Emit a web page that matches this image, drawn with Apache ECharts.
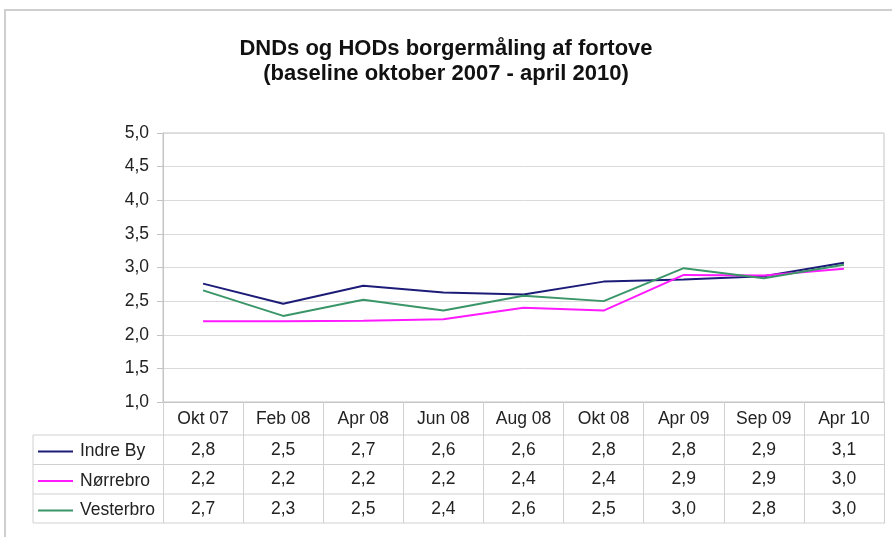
<!DOCTYPE html>
<html><head><meta charset="utf-8">
<script src="https://cdn.jsdelivr.net/npm/echarts@6/dist/echarts.min.js"></script>
<style>html,body{margin:0;padding:0;background:#fff}#c{width:892px;height:537px}</style>
</head><body><div id="c"></div>
<script>
const categories = ['Okt 07','Feb 08','Apr 08','Jun 08','Aug 08','Okt 08','Apr 09','Sep 09','Apr 10'];
const indreBy   = [2.76, 2.46, 2.73, 2.63, 2.60, 2.79, 2.82, 2.87, 3.07];
const norrebro  = [2.20, 2.20, 2.21, 2.23, 2.40, 2.36, 2.89, 2.88, 2.98];
const vesterbro = [2.66, 2.28, 2.52, 2.36, 2.58, 2.50, 2.99, 2.84, 3.04];
const seriesNames = ['Indre By','Nørrebro','Vesterbro'];
const yTicks = { min: 1, max: 5, interval: 0.5 };
const titleLines = ['DNDs og HODs borgermåling af fortove','(baseline oktober 2007 - april 2010)'];

const colors = ['#1c1c78','#ff1aff','#3a9668'];
const seriesData = [indreBy, norrebro, vesterbro];
const fmt = v => (Math.round(v*10)/10).toFixed(1).replace('.', ',');

const FONT = 'Liberation Sans, Arial';
const FS = 17.5;
const G = { left: 163, top: 133, right: 8, bottom: 135 };
const rowOffsets = [31, 60.5, 90];
const rowCenters = [449.5, 479, 508.5];
const lineColor = '#d0d0d0';

const chart = echarts.init(document.getElementById('c'));
const xAxes = [{
  type: 'category', data: categories, boundaryGap: true, gridIndex: 0, position: 'bottom',
  axisLine: { show: true, lineStyle: { color: '#c4c4c4', width: 1 } },
  axisTick: { show: true, length: 121, lineStyle: { color: lineColor } },
  axisLabel: { fontFamily: FONT, fontSize: FS, color: '#222', margin: 8 },
  splitLine: { show: false }
}];
seriesData.forEach((d, i) => {
  xAxes.push({
    type: 'category', data: d.map(fmt), gridIndex: 0, position: 'bottom', offset: rowOffsets[i],
    axisLine: { show: false }, axisTick: { show: false },
    axisLabel: { fontFamily: FONT, fontSize: FS, color: '#222', margin: 8 }
  });
});

const graphics = [
  { type: 'rect', shape: { x: 5, y: 10, width: 900, height: 540 }, style: { fill: 'none', stroke: '#cfcfcf', lineWidth: 2 }, silent: true, z: -1 }
];
[435, 464.5, 494, 523].forEach(y => graphics.push({
  type: 'line', shape: { x1: 33, y1: y, x2: 885, y2: y }, style: { stroke: lineColor, lineWidth: 1 }, silent: true
}));
graphics.push({ type: 'line', shape: { x1: 33, y1: 435, x2: 33, y2: 523 }, style: { stroke: lineColor, lineWidth: 1 }, silent: true });

const legends = seriesNames.map((n, i) => ({
  data: [n], left: 33, top: rowCenters[i] - 12, icon: 'rect', itemWidth: 35, itemHeight: 2, itemGap: 4,
  textStyle: { fontFamily: FONT, fontSize: FS, color: '#222', padding: [0,0,0,2] },
  selectedMode: false
}));

chart.setOption({
  animation: false,
  title: {
    text: titleLines.join('\n'), left: 'center', top: 31,
    textStyle: { fontFamily: FONT, fontWeight: 'bold', fontSize: 22, lineHeight: 25, color: '#111' }
  },
  grid: { left: G.left, top: G.top, right: G.right, bottom: G.bottom, show: true, borderColor: '#c4c4c4', borderWidth: 1 },
  legend: legends,
  xAxis: xAxes,
  yAxis: {
    type: 'value', min: yTicks.min, max: yTicks.max, interval: yTicks.interval,
    axisLine: { show: true, lineStyle: { color: '#c4c4c4' } },
    axisTick: { show: true, length: 6, lineStyle: { color: '#c4c4c4' } },
    axisLabel: { formatter: v => v.toFixed(1).replace('.', ','), fontFamily: FONT, fontSize: FS, color: '#222', margin: 14 },
    splitLine: { lineStyle: { color: '#dadada' } }
  },
  graphic: graphics,
  series: seriesData.map((d, i) => ({
    name: seriesNames[i], type: 'line', data: d, xAxisIndex: 0, symbol: 'none',
    lineStyle: { color: colors[i], width: 2 }, itemStyle: { color: colors[i] }
  }))
});
</script></body></html>
